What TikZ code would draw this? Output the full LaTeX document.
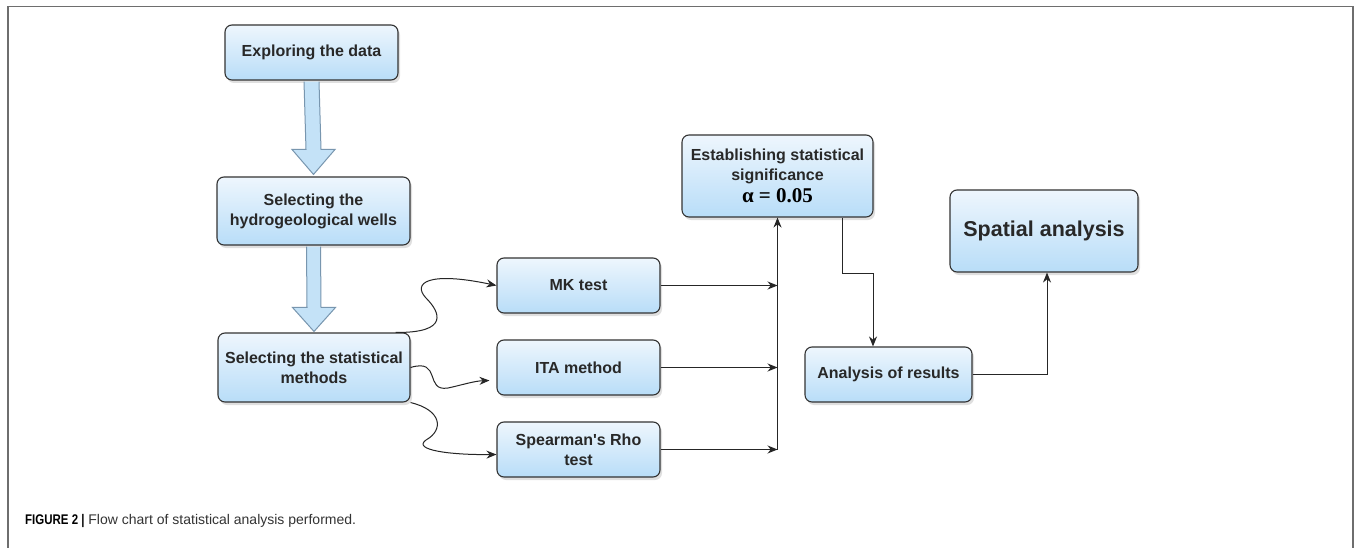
\documentclass[tikz,border=0pt]{standalone}
\usepackage{fontspec}
\setmainfont[Ligatures=TeXOff]{Liberation Sans}
\newfontfamily\serifalpha{Liberation Serif}
\newfontfamily\capfont[FakeStretch=0.82]{Liberation Sans}
\usetikzlibrary{shadows,calc,arrows.meta}
\definecolor{boxtop}{RGB}{238,246,253}
\definecolor{boxbot}{RGB}{184,221,248}
\definecolor{boxtext}{RGB}{40,40,40}
\definecolor{hollowfill}{RGB}{196,226,247}
\definecolor{hollowdraw}{RGB}{120,150,175}
\definecolor{framegray}{RGB}{110,110,110}
\tikzset{
  box/.style={draw=black!80, line width=1.1pt, rounded corners=7pt,
    top color=boxtop, bottom color=boxbot, align=center, inner sep=0pt,
    font=\bfseries\fontsize{16}{20}\selectfont, text=boxtext,
    drop shadow={opacity=0.25, shadow xshift=2pt, shadow yshift=-3pt}},
  conn/.style={draw=black!85, line width=1pt, -{Stealth[length=10pt,width=8pt]}},
  hollow/.style={draw=hollowdraw, fill=hollowfill, line width=1pt, line join=miter}
}
\begin{document}
\begin{tikzpicture}[x=1pt,y=-1pt]
\useasboundingbox (0,0) rectangle (1356,548);
\fill[white] (0,0) rectangle (1356,548);
\draw[framegray, line width=1.6pt] (8,548) -- (8,6.5) -- (1353,6.5) -- (1353,548);

\node[box, minimum width=173pt, minimum height=55pt] (explore) at (311.5,52.5) {Exploring the data};
\node[box, minimum width=193pt, minimum height=68pt] (wells) at (313.5,211) {Selecting the\\hydrogeological wells};
\node[box, minimum width=192pt, minimum height=69pt] (methods) at (314,367.5) {Selecting the statistical\\methods};
\node[box, minimum width=163pt, minimum height=55pt] (mk) at (578.5,285.5) {MK test};
\node[box, minimum width=163pt, minimum height=55pt] (ita) at (578.5,367.5) {ITA method};
\node[box, minimum width=163pt, minimum height=55pt] (spear) at (578.5,449.5) {Spearman's Rho\\test};
\node[box, minimum width=191pt, minimum height=82pt] (estab) at (777.5,176) {Establishing statistical\\significance\\[2pt]{\serifalpha\bfseries\fontsize{21}{22}\selectfont\color{black}α = 0.05}};
\node[box, minimum width=167pt, minimum height=55pt] (results) at (888.5,374.5) {Analysis of results};
\node[box, minimum width=188pt, minimum height=82pt, font=\bfseries\fontsize{21.5}{24}\selectfont] (spatial) at (1044,231) {Spatial analysis};

% hollow block arrows
\draw[hollow] ($(explore.south)+(-7.5,1)$) -- ($(wells.north)+(-7.5,-27)$) -- ($(wells.north)+(-21.5,-27)$) -- ($(wells.north)+(0,-2)$) -- ($(wells.north)+(21.5,-27)$) -- ($(wells.north)+(7.5,-27)$) -- ($(explore.south)+(7.5,1)$);
\draw[hollow] ($(wells.south)+(-7,1)$) -- ($(methods.north)+(-7,-25)$) -- ($(methods.north)+(-21.5,-25)$) -- ($(methods.north)+(0,-1)$) -- ($(methods.north)+(21.5,-25)$) -- ($(methods.north)+(7,-25)$) -- ($(wells.south)+(7,1)$);

% curved connectors
\coordinate (c1) at ($(methods.north east)+(-15,0)$);
\draw[conn] (c1) .. controls (450,333) and (440,312) .. (426,298) .. controls (412,283) and (428,271) .. (mk.west);
\coordinate (c2) at ($(ita.west)+(-7,13)$);
\draw[conn] (methods.east) .. controls (442,358) and (424,392) .. (448,388) .. controls (462,385) and (474,381) .. (c2);
\coordinate (c3) at ($(spear.west)+(0,5)$);
\draw[conn] (methods.south east) .. controls (442,410) and (444,430) .. (426,440) .. controls (412,450) and (450,455) .. (c3);

% bus to significance
\draw[conn] (mk.east) -- (mk.east -| estab.south);
\draw[conn] (ita.east) -- (ita.east -| estab.south);
\draw[conn] (spear.east) -- (spear.east -| estab.south);
\draw[conn] (spear.east -| estab.south) -- (estab.south);

% significance to results
\coordinate (t1) at (873,273);
\draw[conn] ($(estab.south)+(64.5,0)$) |- (t1) -- (t1 |- results.north);

% results to spatial
\draw[conn] (results.east) -| ($(spatial.south)+(3,0)$);

% caption
\node[anchor=base west, inner sep=0pt, font=\fontsize{14}{16}\selectfont] (cap) at (25,524.5) {{\capfont\bfseries FIGURE 2 |} \color{black!80}Flow chart of statistical analysis performed.};
\end{tikzpicture}
\end{document}
